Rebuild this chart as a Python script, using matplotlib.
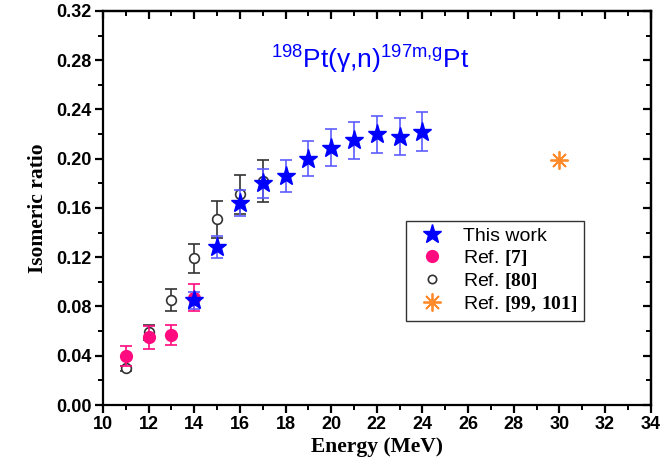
import numpy as np
import matplotlib
matplotlib.use("Agg")
import matplotlib.pyplot as plt
from matplotlib.lines import Line2D
from matplotlib.ticker import MultipleLocator

plt.rcParams['font.family'] = ['Liberation Sans', 'DejaVu Sans']
plt.rcParams['mathtext.fontset'] = 'custom'
plt.rcParams['mathtext.rm'] = 'Liberation Sans'
plt.rcParams['mathtext.it'] = 'Liberation Sans'
plt.rcParams['mathtext.bf'] = 'Liberation Serif:bold'

#--- This work
e_this = [14, 15, 16, 17, 18, 19, 20, 21, 22, 23, 24]
r_this = [0.085, 0.128, 0.164, 0.180, 0.186, 0.200, 0.209, 0.215, 0.220, 0.218, 0.222]
err_this = [0.007, 0.009, 0.0105, 0.012, 0.013, 0.014, 0.015, 0.015, 0.015, 0.015, 0.016]

#--- Ref. [7]
e_ref7 = [11, 12, 13, 14]
r_ref7 = [0.040, 0.055, 0.057, 0.087]
err_ref7 = [0.008, 0.0095, 0.008, 0.011]

#--- Ref. [80]
e_ref80 = [11, 12, 13, 14, 15, 16, 17]
r_ref80 = [0.030, 0.059, 0.085, 0.119, 0.151, 0.171, 0.182]
err_ref80 = [0.002, 0.006, 0.009, 0.012, 0.015, 0.016, 0.017]

#--- Ref. [99, 101]
e_ref99 = [30]
r_ref99 = [0.199]

blue = '#0000ff'
pink = '#ff0a7f'
orange = '#ff8a2a'

fig = plt.figure(figsize=(6.64, 4.68), dpi=100)
ax = fig.add_axes([0.155, 0.1346, 0.825, 0.842])

ax.errorbar(e_ref80, r_ref80, yerr=err_ref80, fmt='o', ms=7, mfc='white', mec='#333333',
            mew=1.2, ecolor='#333333', elinewidth=1.2, capsize=4, capthick=1.2, zorder=2)
ax.errorbar(e_ref7, r_ref7, yerr=err_ref7, fmt='o', ms=8.5, color=pink, ecolor=pink,
            elinewidth=1.2, capsize=4, capthick=1.2, zorder=3)
ax.errorbar(e_this, r_this, yerr=err_this, fmt='*', ms=14, color=blue, ecolor='#5c5cff',
            elinewidth=1.2, capsize=4, capthick=1.2, zorder=4)
ax.plot(e_ref99, r_ref99, marker=(8, 2, 0), ms=13, color=orange, mew=1.3, ls='none', zorder=4)

ax.set_xlim(10, 34)
ax.set_ylim(0, 0.32)
ax.xaxis.set_major_locator(MultipleLocator(2))
ax.xaxis.set_minor_locator(MultipleLocator(1))
ax.yaxis.set_major_locator(MultipleLocator(0.04))
ax.yaxis.set_minor_locator(MultipleLocator(0.02))
ax.yaxis.set_major_formatter(matplotlib.ticker.FormatStrFormatter('%.2f'))

for s in ax.spines.values():
    s.set_linewidth(1.6)
ax.tick_params(which='major', direction='out', length=6, width=1.6, labelsize=13, pad=2)
ax.tick_params(which='minor', direction='out', length=3.5, width=1.4)
for lbl in ax.get_xticklabels() + ax.get_yticklabels():
    lbl.set_fontweight('bold')

#--- inward ticks on top and right
top = ax.secondary_xaxis('top')
top.xaxis.set_major_locator(MultipleLocator(2))
top.xaxis.set_minor_locator(MultipleLocator(1))
top.tick_params(which='major', direction='in', length=6, width=1.6, labeltop=False)
top.tick_params(which='minor', direction='in', length=3.5, width=1.4)
right = ax.secondary_yaxis('right')
right.yaxis.set_major_locator(MultipleLocator(0.04))
right.yaxis.set_minor_locator(MultipleLocator(0.02))
right.tick_params(which='major', direction='in', length=6, width=1.6, labelright=False)
right.tick_params(which='minor', direction='in', length=3.5, width=1.4)
top.spines['top'].set_linewidth(1.6)
right.spines['right'].set_linewidth(1.6)

ax.set_xlabel('Energy (MeV)', family='Liberation Serif', fontweight='bold', fontsize=15.5, labelpad=3)
ax.set_ylabel('Isomeric ratio', family='Liberation Serif', fontweight='bold', fontsize=15.5, labelpad=6)

ax.text(21.7, 0.2805, r'$^{198}$Pt($\gamma$,n)$^{197m{,}g}$Pt', color=blue, fontsize=19,
        ha='center', va='center')

handles = [
    Line2D([], [], marker='*', ms=14, color=blue, ls='none'),
    Line2D([], [], marker='o', ms=8.5, color=pink, ls='none'),
    Line2D([], [], marker='o', ms=6, mfc='white', mec='#333333', mew=1.2, ls='none'),
    Line2D([], [], marker=(8, 2, 0), ms=13, color=orange, mew=1.3, ls='none'),
]
labels = ['This work', r'Ref. $\mathbf{[7]}$', r'Ref. $\mathbf{[80]}$', r'Ref. $\mathbf{[99,\,101]}$']
leg = ax.legend(handles, labels, loc='upper left', bbox_to_anchor=(0.553, 0.468),
                borderaxespad=0, fontsize=14, frameon=True, fancybox=False, edgecolor='black',
                handletextpad=0.6, labelspacing=0.15, borderpad=0.35, handlelength=2.0)
leg.get_frame().set_linewidth(1.0)

fig.savefig('out.png', dpi=100)
